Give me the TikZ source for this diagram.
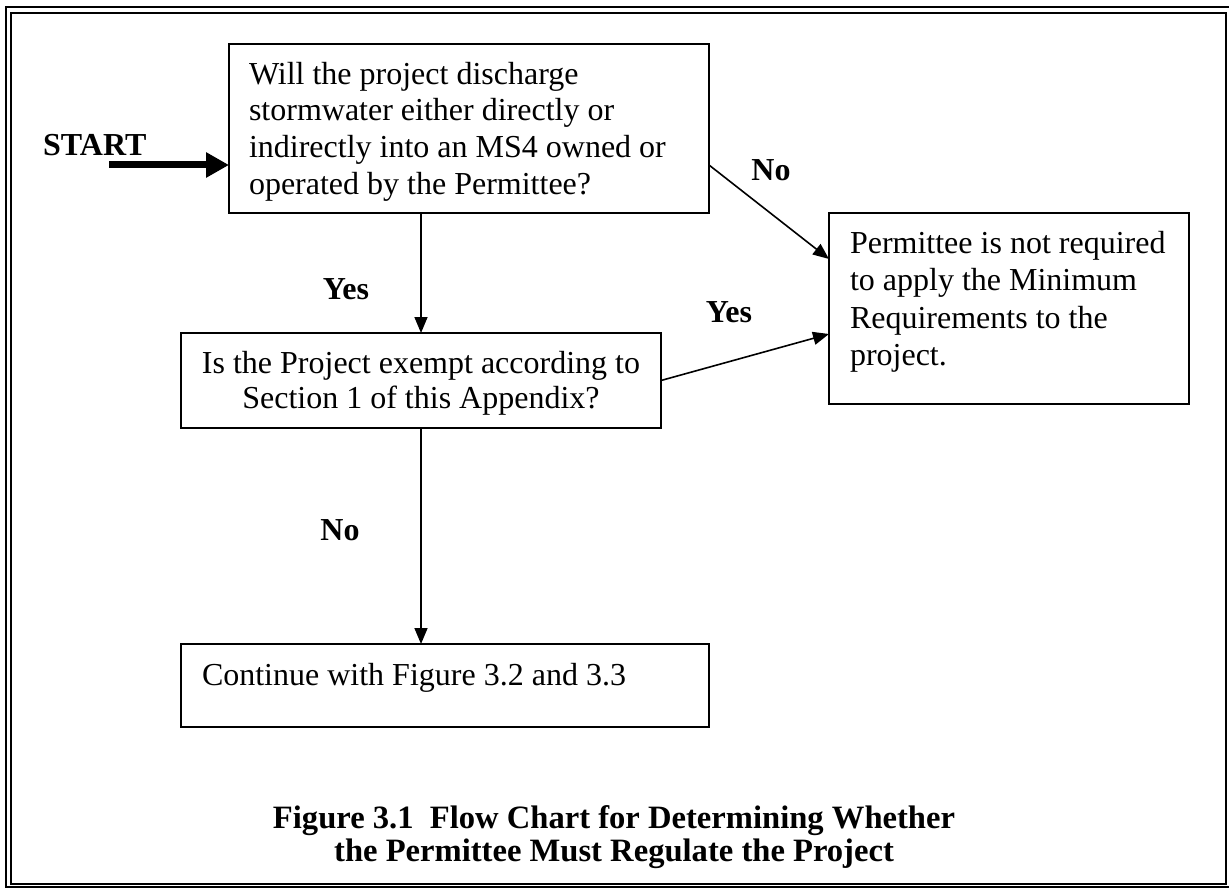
\documentclass[tikz,border=0pt]{standalone}
\usepackage{fontspec}
\setmainfont{Liberation Serif}
\usetikzlibrary{arrows.meta}
\begin{document}
\begin{tikzpicture}[x=1pt,y=-1pt,
  box/.style={draw, line width=1.3pt, inner sep=0pt, outer sep=0pt, anchor=north west},
  txt/.style={inner sep=0pt, outer sep=0pt, font=\fontsize{32}{36.6}\selectfont},
  lbl/.style={inner sep=0pt, anchor=base, font=\fontsize{32}{36}\selectfont\bfseries},
  arr/.style={line width=1.6pt, -{Triangle[length=16pt,width=13pt]}},
  startarr/.style={line width=7pt, -{Triangle[length=23pt,width=24pt]}},
  framel/.style={line width=2pt}]
\useasboundingbox (0,0) rectangle (1229,888);
% frame
\draw[framel] (6,7) rectangle (1233,887);
\draw[framel] (11,13) rectangle (1226,884);
% boxes
\node[box, minimum width=480pt, minimum height=169pt] (q1) at (229,44) {};
\node[box, minimum width=360pt, minimum height=191pt] (res) at (829,213) {};
\node[box, minimum width=480pt, minimum height=95pt] (q2) at (181,333) {};
\node[box, minimum width=528pt, minimum height=83pt] (cont) at (181,644) {};
% box texts
\node[txt, anchor=north west, align=left] (t1) at ([xshift=20pt,yshift=-18pt]q1.north west)
  {\rule{0pt}{22pt}Will the project discharge\\stormwater either directly or\\indirectly into an MS4 owned or\\operated by the Permittee?};
\node[txt, anchor=north west, align=left, font=\fontsize{32}{37.4}\selectfont] (t2) at ([xshift=21pt,yshift=-18pt]res.north west)
  {\rule{0pt}{22pt}Permittee is not required\\to apply the Minimum\\Requirements to the\\project.};
\node[txt, anchor=north, align=center, font=\fontsize{32}{35}\selectfont] (t3) at ([yshift=-18pt]q2.north)
  {\rule{0pt}{22pt}Is the Project exempt according to\\Section 1 of this Appendix?};
\node[txt, anchor=north west, align=left] (t4) at ([xshift=21pt,yshift=-19pt]cont.north west)
  {\rule{0pt}{22pt}Continue with Figure 3.2 and 3.3};
% start
\node[lbl, anchor=base west] (start) at (43,156) {START};
\coordinate (s0) at (109,165);
\draw[startarr] (s0) -- (s0 -| q1.west);
% connectors
\draw[arr] (q1.south -| q2.north) -- (q2.north);
\draw[arr] (q2.south) -- (cont.north -| q2.south);
\draw[arr] ([yshift=48pt]q1.south east) -- ([yshift=-46pt]res.north west);
\draw[arr] (q2.east) -- ([yshift=-121pt]res.north west);
% labels
\node[lbl] (no1) at (771,180) {No};
\node[lbl] (yes1) at (346,299) {Yes};
\node[lbl] (yes2) at (729,322) {Yes};
\node[lbl] (no2) at (340,540) {No};
% caption
\node[inner sep=0pt, anchor=north, align=center, font=\fontsize{32.6}{33}\selectfont\bfseries] (cap) at (614,805)
  {\rule{0pt}{23pt}Figure 3.1\ \ Flow Chart for Determining Whether\\the Permittee Must Regulate the Project};
\end{tikzpicture}
\end{document}
